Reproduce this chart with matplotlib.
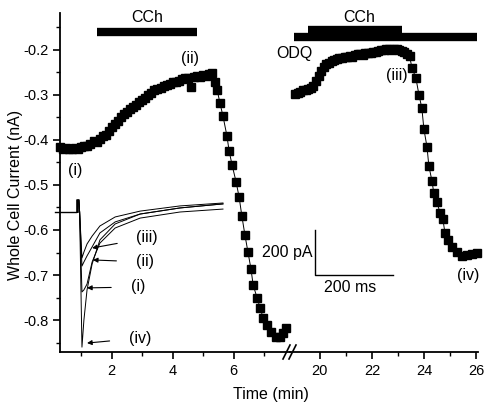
"""
Whole-cell current vs time, with CCh / ODQ application bars and an inset
of the evoked current traces (i)-(iv).
Output: out.png (491x408)
"""

import numpy as np
import matplotlib
matplotlib.use("Agg")
import matplotlib.pyplot as plt
from matplotlib.lines import Line2D

plt.rcParams["font.family"] = ["Liberation Sans", "DejaVu Sans"]

# ---- main time course, control (left segment) ----
left_t = [0.30, 0.40, 0.50, 0.60, 0.70, 0.80, 0.90, 1.00, 1.10, 1.20,
          1.30, 1.40, 1.50, 1.60, 1.70, 1.80, 1.90, 2.00, 2.10, 2.20,
          2.30, 2.40, 2.50, 2.60, 2.70, 2.80, 2.90, 3.00, 3.10, 3.20,
          3.30, 3.40, 3.50, 3.60, 3.70, 3.80, 3.90, 4.00, 4.10, 4.20,
          4.30, 4.40, 4.50, 4.60, 4.70, 4.80, 4.90, 5.00, 5.10, 5.20,
          5.30, 5.39, 5.46, 5.55, 5.65, 5.78, 5.85, 5.95, 6.08, 6.18,
          6.27, 6.37, 6.47, 6.57, 6.64, 6.77, 6.87, 6.97, 7.10, 7.23,
          7.38, 7.52, 7.62, 7.72]
left_i = [-0.415, -0.420, -0.418, -0.421, -0.419, -0.418, -0.419, -0.416, -0.413, -0.414,
          -0.408, -0.403, -0.405, -0.398, -0.392, -0.390, -0.380, -0.372, -0.364, -0.357,
          -0.350, -0.342, -0.339, -0.332, -0.327, -0.322, -0.316, -0.311, -0.306, -0.300,
          -0.295, -0.290, -0.287, -0.285, -0.280, -0.277, -0.276, -0.272, -0.271, -0.268,
          -0.265, -0.263, -0.262, -0.282, -0.261, -0.259, -0.260, -0.256, -0.258, -0.254,
          -0.252, -0.271, -0.289, -0.318, -0.347, -0.391, -0.424, -0.456, -0.493, -0.527,
          -0.569, -0.611, -0.649, -0.687, -0.722, -0.751, -0.773, -0.796, -0.811, -0.827,
          -0.838, -0.838, -0.829, -0.818]

# ---- main time course, with ODQ (right segment) ----
right_t = [19.05, 19.15, 19.25, 19.35, 19.45, 19.55, 19.65, 19.75, 19.85, 19.95,
           20.05, 20.15, 20.25, 20.35, 20.45, 20.55, 20.65, 20.75, 20.85, 20.95,
           21.05, 21.15, 21.25, 21.35, 21.45, 21.55, 21.65, 21.75, 21.85, 21.95,
           22.05, 22.15, 22.25, 22.35, 22.45, 22.55, 22.65, 22.75, 22.85, 22.95,
           23.05, 23.15, 23.25, 23.35, 23.45, 23.54, 23.69, 23.81, 23.92, 24.00,
           24.12, 24.19, 24.31, 24.38, 24.50, 24.62, 24.73, 24.81, 24.92, 25.08,
           25.27, 25.46, 25.65, 25.85, 26.04]
right_i = [-0.298, -0.296, -0.293, -0.290, -0.289, -0.287, -0.284, -0.281, -0.270, -0.258,
           -0.247, -0.238, -0.231, -0.228, -0.225, -0.222, -0.221, -0.219, -0.217, -0.216,
           -0.215, -0.214, -0.215, -0.211, -0.210, -0.209, -0.212, -0.207, -0.206, -0.206,
           -0.205, -0.204, -0.203, -0.201, -0.200, -0.199, -0.199, -0.200, -0.198, -0.199,
           -0.201, -0.203, -0.205, -0.208, -0.214, -0.240, -0.262, -0.300, -0.329, -0.376,
           -0.416, -0.458, -0.491, -0.518, -0.538, -0.562, -0.576, -0.607, -0.622, -0.638,
           -0.649, -0.658, -0.656, -0.653, -0.651]

# ---- inset current traces (ms, pA) ----
pre_ms = [0, 55, 57, 61, 63]
pre_pa = [0, 0, 53, 53, 0]
trace_ms = [69, 74, 82, 95, 115, 154, 218, 320, 430]
trace_pa = {
    "(iii)": [-204, -178, -142, -107, -62, -22, 4, 27, 40],
    "(ii)": [-240, -222, -195, -155, -93, -44, -9, 18, 36],
    "(i)": [-355, -346, -320, -222, -138, -71, -27, 0, 13],
    "(iv)": [-600, -480, -346, -231, -124, -53, -9, 18, 36],
}
# arrow tip (ms, pA) and label centre (ms, pA)
trace_arrows = {
    "(iii)": ((95, -160), (236, -115)),
    "(ii)": ((97, -213), (230, -222)),
    "(i)": ((82, -337), (212, -333)),
    "(iv)": ((82, -582), (218, -560)),
}

W, H = 491, 408
fig = plt.figure(figsize=(W / 100, H / 100), dpi=100)


def fx(px):
    return px / W


def fy(py):
    return 1 - py / H


ylim = (-0.871, -0.118)
ax_l = fig.add_axes([fx(60), fy(352), fx(290) - fx(60), fy(13) - fy(352)])
ax_r = fig.add_axes([fx(290), fy(352), fx(478) - fx(290), fy(13) - fy(352)])

for ax, t, v in [(ax_l, left_t, left_i), (ax_r, right_t, right_i)]:
    ax.plot(t, v, "-", color="k", lw=0.7, marker="s", ms=5.6,
            mfc="k", mec="k", clip_on=False)
    ax.set_ylim(*ylim)
    ax.spines["top"].set_visible(False)
    ax.spines["right"].set_visible(False)
    ax.spines["bottom"].set_linewidth(1.3)
    ax.spines["left"].set_linewidth(1.3)
    ax.tick_params(direction="out", length=5, width=1.2, labelsize=10.5)
    ax.tick_params(which="minor", direction="out", length=3, width=1.0)
    ax.patch.set_alpha(0)

ax_l.set_xlim(0.3, 7.85)
ax_l.set_xticks([2, 4, 6])
ax_l.set_xticks([1, 3, 5, 7], minor=True)
ax_l.set_yticks([-0.8, -0.7, -0.6, -0.5, -0.4, -0.3, -0.2])
ax_l.set_yticklabels(["-0.8", "-0.7", "-0.6", "-0.5", "-0.4", "-0.3", "-0.2"])
ax_l.set_yticks(np.arange(-0.85, -0.14, 0.1), minor=True)

ax_r.set_xlim(18.85, 26.08)
ax_r.set_xticks([20, 22, 24, 26])
ax_r.set_xticks([21, 23, 25], minor=True)
ax_r.spines["left"].set_visible(False)
ax_r.set_yticks([])

# drug application bars
ax_l.plot([1.52, 4.8], [-0.160, -0.160], color="k", lw=6, solid_capstyle="butt")
ax_l.text(3.17, -0.129, "CCh", ha="center", va="center", fontsize=11.5)
ax_r.plot([19.54, 23.15], [-0.156, -0.156], color="k", lw=6,
          solid_capstyle="butt", clip_on=False)
ax_r.plot([19.0, 26.06], [-0.171, -0.171], color="k", lw=6,
          solid_capstyle="butt", clip_on=False)
ax_r.text(21.5, -0.129, "CCh", ha="center", va="center", fontsize=11.5)
ax_r.text(19.0, -0.207, "ODQ", ha="center", va="center", fontsize=11.5)

# point labels
ax_l.text(0.8, -0.467, "(i)", ha="center", va="center", fontsize=11.5)
ax_l.text(4.57, -0.218, "(ii)", ha="center", va="center", fontsize=11.5)
ax_r.text(22.96, -0.256, "(iii)", ha="center", va="center", fontsize=11.5)
ax_r.text(25.69, -0.700, "(iv)", ha="center", va="center", fontsize=11.5)

# axis break marks
for x0 in (283, 289):
    fig.add_artist(Line2D([fx(x0), fx(x0 + 7)], [fy(359), fy(345)],
                          color="k", lw=1.2))

fig.text(fx(271), fy(395), "Time (min)", ha="center", va="center", fontsize=11.5)
fig.text(fx(16), fy(195), "Whole Cell Current (nA)", ha="center", va="center",
         rotation=90, fontsize=11.5)

# ---- inset ----
ins = fig.add_axes([fx(50), fy(355), fx(400) - fx(50), fy(190) - fy(355)])
ins.set_xlim(-12.8, 883.2)
ins.set_ylim(-635, 97.7)
ins.axis("off")
ins.patch.set_alpha(0)

ins.plot(pre_ms[:2], pre_pa[:2], color="k", lw=1.0)
ins.plot([57, 57, 60, 60], [0, 53, 53, 0], color="k", lw=1.2)
for name, vals in trace_pa.items():
    ins.plot(pre_ms[3:] + trace_ms, pre_pa[3:] + vals, color="k", lw=0.7)
for name, (tip, lab) in trace_arrows.items():
    ins.annotate(name, xy=tip, xytext=lab, ha="center", va="center",
                 fontsize=11.5,
                 arrowprops=dict(arrowstyle="-|>", color="k", lw=0.8,
                                 mutation_scale=7, shrinkA=12, shrinkB=0))

# scale bar: 200 pA / 200 ms
ins.plot([665, 665, 865], [-80, -280, -280], color="k", lw=1.0)
ins.text(660, -178, "200 pA", ha="right", va="center", fontsize=11.5)
ins.text(755, -337, "200 ms", ha="center", va="center", fontsize=11.5)

fig.savefig("out.png", dpi=100)
